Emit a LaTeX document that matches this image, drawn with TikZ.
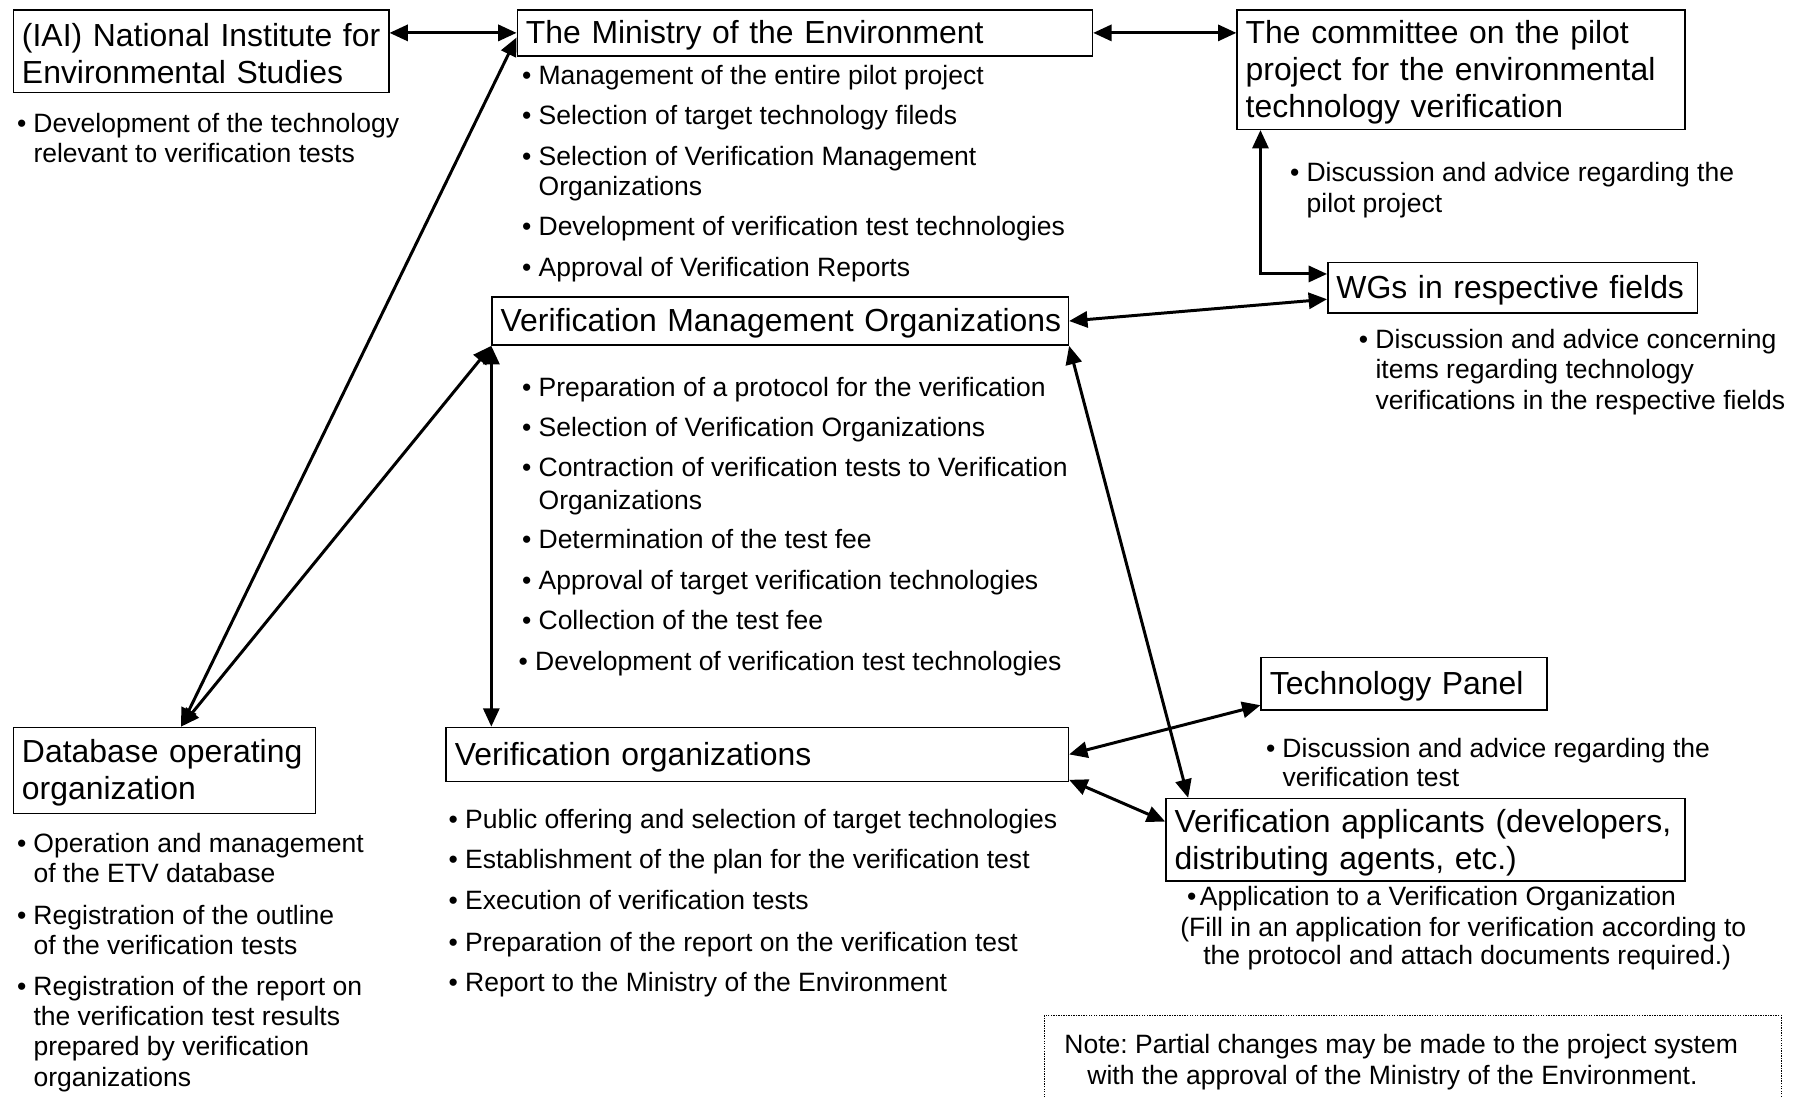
\documentclass[tikz,border=0pt]{standalone}
\usepackage{fontspec}
\setmainfont{Liberation Sans}
\usetikzlibrary{arrows.meta}
\newcommand\bigf{\fontsize{27.8}{32}\selectfont}
\newcommand\smf{\fontsize{23.1}{26}\selectfont}
\newcommand\bl{\llap{•\hspace{6.3pt}}}
\frenchspacing
\hbadness=10000 \hfuzz=50pt
\begin{document}
\begin{tikzpicture}[x=1pt,y=-1pt,
  box/.style={draw, line width=1.3pt, rectangle, anchor=north west, inner xsep=7.5pt, inner ysep=0pt, align=left, font=\bigf, execute at begin node={\rule{0pt}{24.5pt}}},
  sm/.style={anchor=base west, inner sep=0pt, font=\smf},
  conn/.style={line width=2.6pt, <->, >={Triangle[length=16pt,width=14pt]}},
  notebox/.style={draw, densely dotted, line width=1.2pt, anchor=north west, inner sep=0pt}]
\useasboundingbox (0,0) rectangle (1568,955);
% boxes
\node[box, text width=312pt, minimum height=72pt] (iai) at (11,8) {\mbox{(IAI) National Institute for}\\\mbox{Environmental Studies}};
\node[box, text width=486pt, minimum height=40pt] (min) at (450,8) {\mbox{The Ministry of the Environment}};
\node[box, text width=375pt, minimum height=104pt] (com) at (1077,8) {\mbox{The committee on the pilot}\\\mbox{project for the environmental}\\\mbox{technology verification}};
\node[box, text width=307pt, minimum height=44pt] (wg) at (1156,228) {\mbox{WGs in respective fields}};
\node[box, text width=487pt, minimum height=42pt] (vmo) at (428,258) {\mbox{Verification Management Organizations}};
\node[box, text width=248pt, minimum height=75pt] (db) at (11,633) {\mbox{Database operating}\\\mbox{organization}};
\node[box, text width=527pt, minimum height=47pt] (vo) at (388,633) {\mbox{Verification organizations}};
\node[box, text width=234pt, minimum height=46pt] (tp) at (1098,572) {\mbox{Technology Panel}};
\node[box, text width=437pt, minimum height=72pt] (app) at (1015,695) {\mbox{Verification applicants (developers,}\\\mbox{distributing agents, etc.)}};
\node[notebox, minimum width=642pt, minimum height=100pt] (note) at (909,884) {};
% IAI text
\node[sm] (i1) at (29,115.5) {\bl Development of the technology};
\node[sm] (i2) at (29,141.5) {relevant to verification tests};
% Ministry text
\node[sm] (m1) at (469,73.5) {\bl Management of the entire pilot project};
\node[sm] (m2) at (469,108.5) {\bl Selection of target technology fileds};
\node[sm] (m3) at (469,144.5) {\bl Selection of Verification Management};
\node[sm] (m4) at (469,170.5) {Organizations};
\node[sm] (m5) at (469,205.5) {\bl Development of verification test technologies};
\node[sm] (m6) at (469,240.5) {\bl Approval of Verification Reports};
% Committee text
\node[sm] (c1) at (1138,158.5) {\bl Discussion and advice regarding the};
\node[sm] (c2) at (1138,185.5) {pilot project};
% WG text
\node[sm] (w1) at (1198,303.5) {\bl Discussion and advice concerning};
\node[sm] (w2) at (1198,329.5) {items regarding technology};
\node[sm] (w3) at (1198,356.5) {verifications in the respective fields};
% VMO text
\node[sm] (v1) at (469,345.5) {\bl Preparation of a protocol for the verification};
\node[sm] (v2) at (469,380.5) {\bl Selection of Verification Organizations};
\node[sm] (v3) at (469,415.5) {\bl Contraction of verification tests to Verification};
\node[sm] (v4) at (469,443.5) {Organizations};
\node[sm] (v5) at (469,477.5) {\bl Determination of the test fee};
\node[sm] (v6) at (469,513.5) {\bl Approval of target verification technologies};
\node[sm] (v7) at (469,548.5) {\bl Collection of the test fee};
\node[sm] (v8) at (466,584.5) {\bl Development of verification test technologies};
% DB text
\node[sm] (d1) at (29,742.5) {\bl Operation and management};
\node[sm] (d2) at (29,768.5) {of the ETV database};
\node[sm] (d3) at (29,805.5) {\bl Registration of the outline};
\node[sm] (d4) at (29,831.5) {of the verification tests};
\node[sm] (d5) at (29,867.5) {\bl Registration of the report on};
\node[sm] (d6) at (29,893.5) {the verification test results};
\node[sm] (d7) at (29,919.5) {prepared by verification};
\node[sm] (d8) at (29,946.5) {organizations};
% VO text
\node[sm] (o1) at (405,721.5) {\bl Public offering and selection of target technologies};
\node[sm] (o2) at (405,756.5) {\bl Establishment of the plan for the verification test};
\node[sm] (o3) at (405,792.5) {\bl Execution of verification tests};
\node[sm] (o4) at (405,828.5) {\bl Preparation of the report on the verification test};
\node[sm] (o5) at (405,863.5) {\bl Report to the Ministry of the Environment};
% TP text
\node[sm] (t1) at (1117,659.5) {\bl Discussion and advice regarding the};
\node[sm] (t2) at (1117,685.5) {verification test};
% Applicants text
\node[sm] (a1) at (1045,788.5) {\llap{•\hspace{3pt}}Application to a Verification Organization};
\node[sm] (a2) at (1028,815.5) {(Fill in an application for verification according to};
\node[sm] (a3) at (1048,840.5) {the protocol and attach documents required.)};
% Note text
\node[sm] (n1) at (927,917.5) {Note: Partial changes may be made to the project system};
\node[sm] (n2) at (947,944.5) {with the approval of the Ministry of the Environment.};
% connectors
\draw[conn] (iai.east |- min.west) -- (min.west);
\draw[conn] (min.east) -- (com.west |- min.east);
\draw[conn] ([xshift=21pt]com.south west) |- ([yshift=12pt]wg.west);
\draw[conn] (vmo.east) -- ([yshift=-10pt]wg.west);
\draw[conn] ([xshift=14.5pt]db.north) -- ([yshift=-4pt]min.west);
\draw[conn] ([xshift=14.5pt]db.north) -- (vmo.south west);
\draw[conn] (vmo.south west) -- (vmo.south west |- vo.north);
\draw[conn] (vmo.south east) -- ([xshift=20pt]app.north west);
\draw[conn] (vo.east) -- ([yshift=5pt]tp.south west);
\draw[conn] ([yshift=2pt]vo.south east) -- ([yshift=16pt]app.west);
\end{tikzpicture}
\end{document}
